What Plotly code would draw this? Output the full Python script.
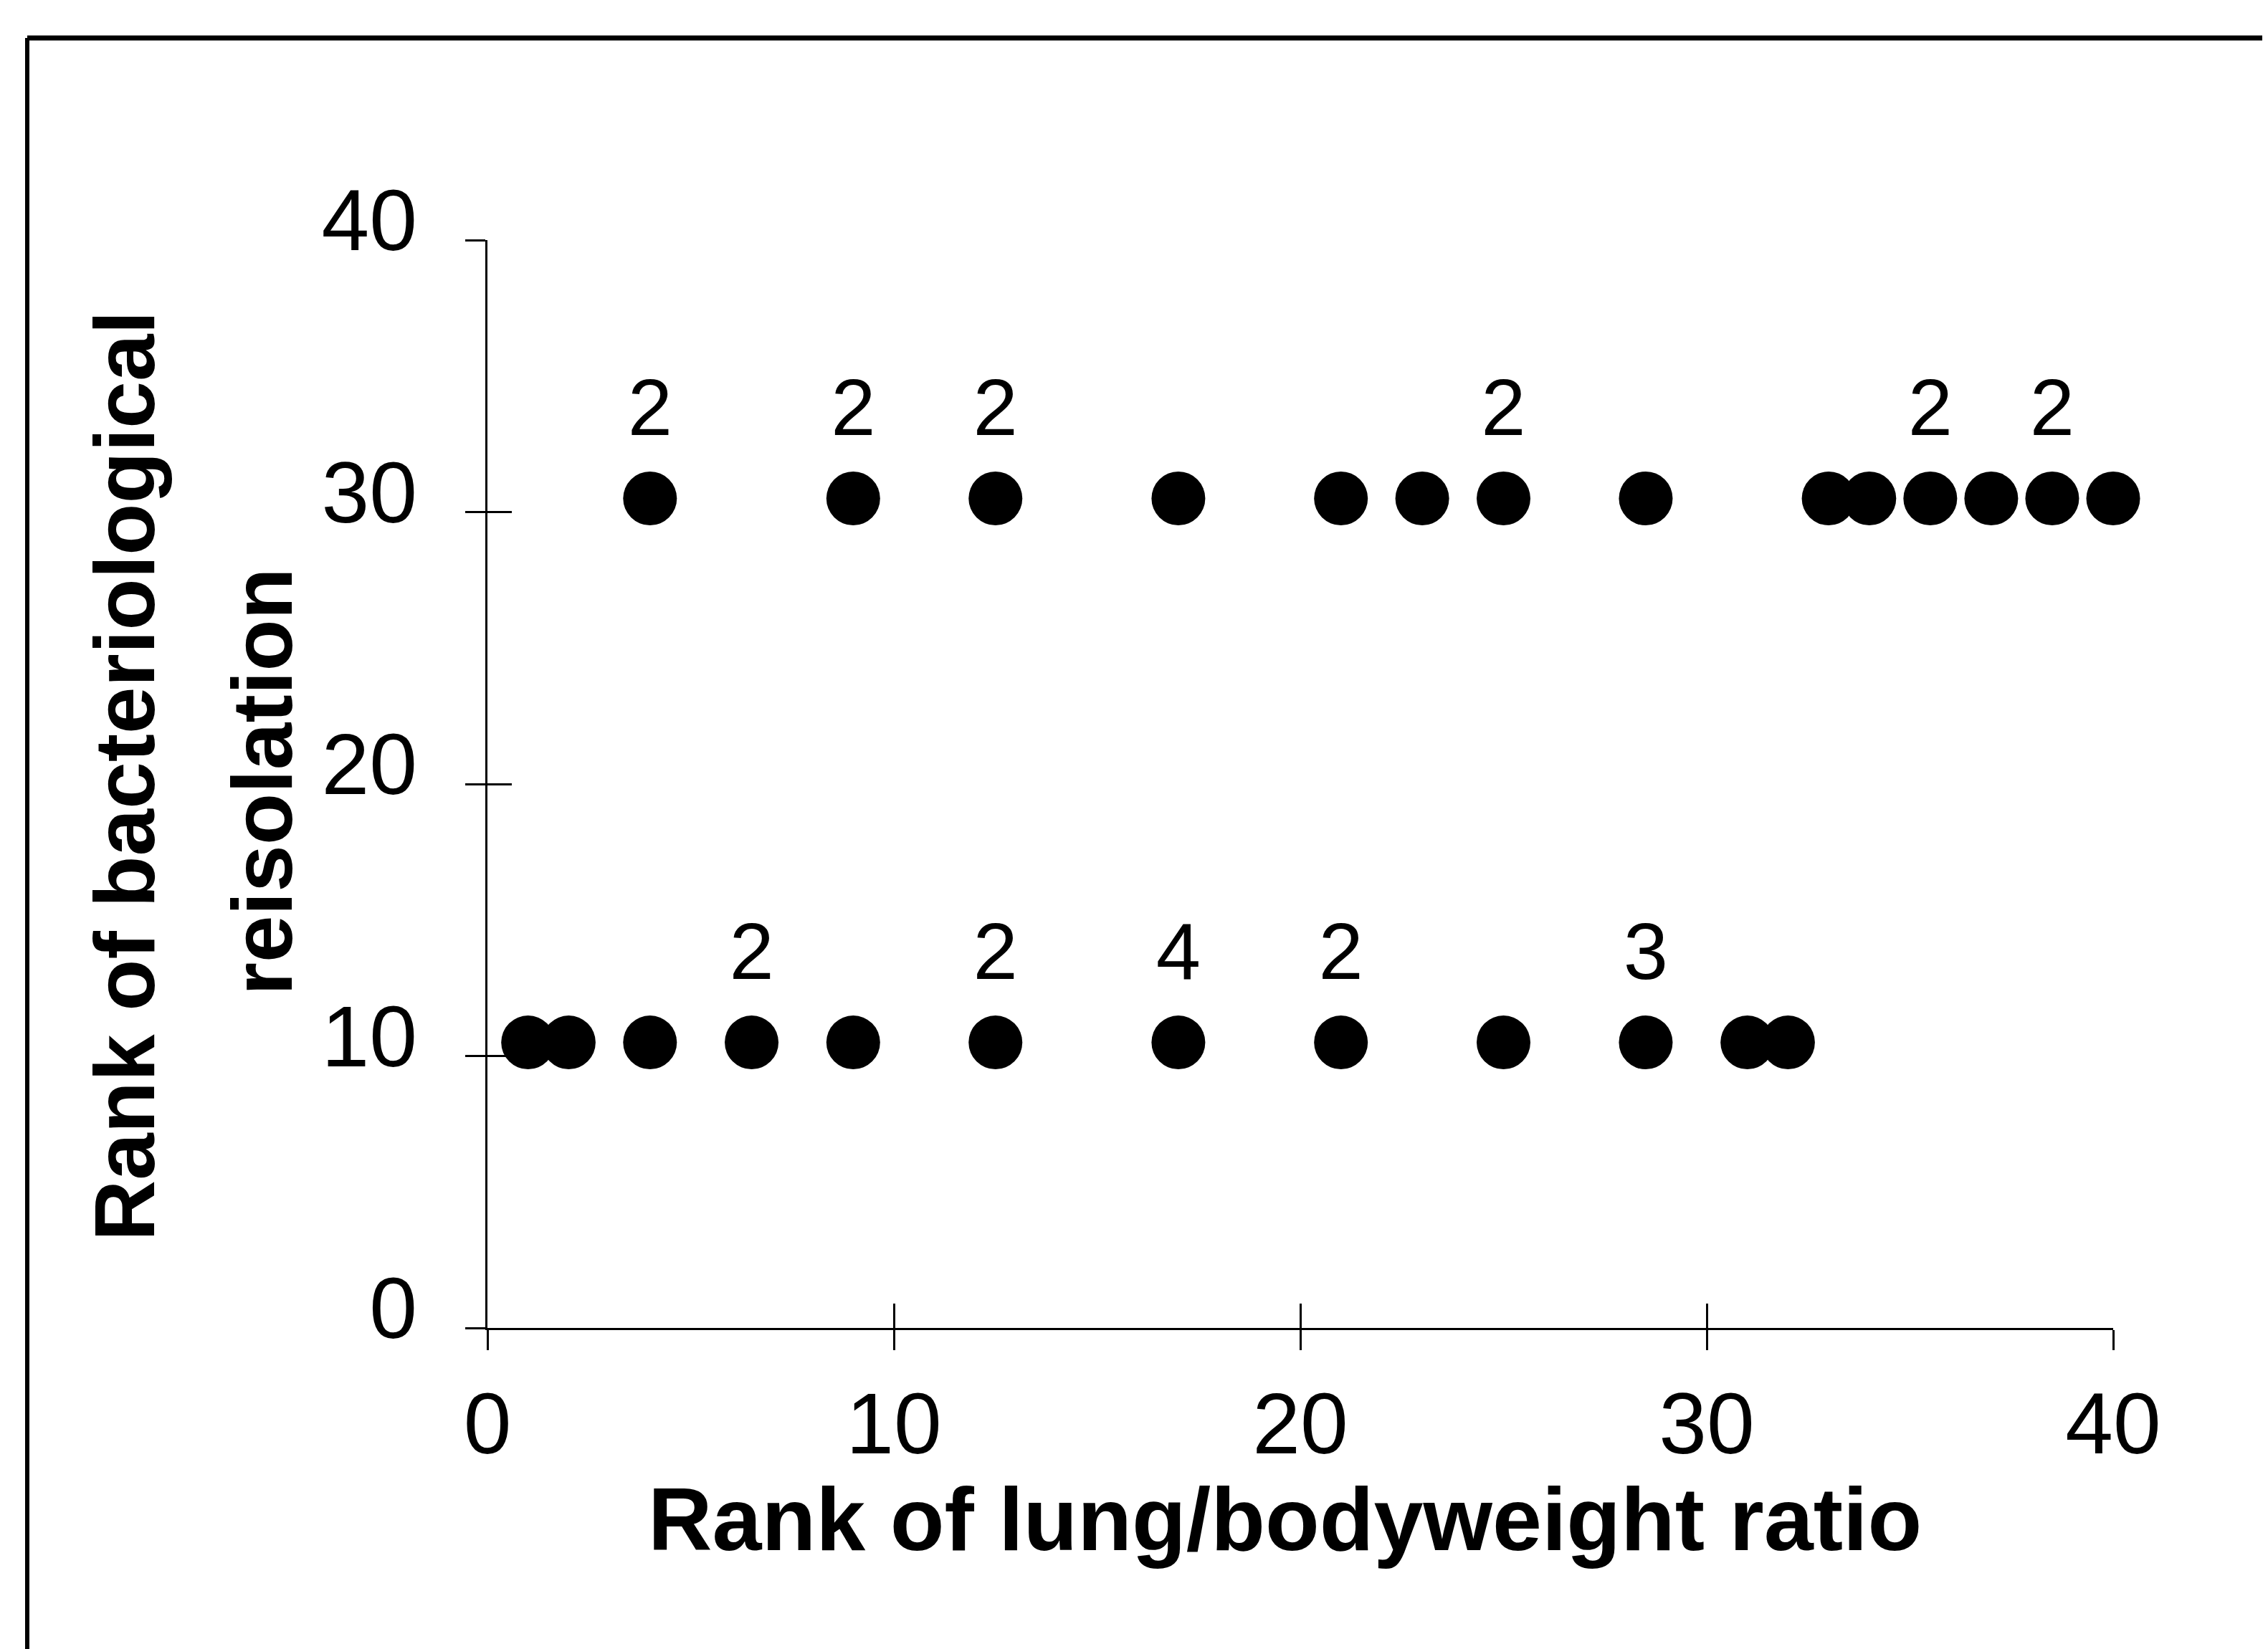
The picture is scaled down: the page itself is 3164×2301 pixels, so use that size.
import plotly.graph_objects as go

# ---- data (ranks) ----
# animals with negative reisolation (tied rank 10.5)
x_neg = [1, 2, 4, 6.5, 9, 12.5, 17, 21, 25, 28.5, 31, 32]
n_neg = [1, 1, 1, 2, 1, 2, 4, 2, 1, 3, 1, 1]
y_neg_rank = 10.5
# animals with positive reisolation (tied rank 30.5)
x_pos = [4, 9, 12.5, 17, 21, 23, 25, 28.5, 33, 34, 35.5, 37, 38.5, 40]
n_pos = [2, 2, 2, 1, 1, 1, 2, 1, 1, 1, 2, 1, 2, 1]
y_pos_rank = 30.5

tick_vals = [0, 10, 20, 30, 40]
tick_text = ["0", "10", "20", "30", "40"]

W, H = 3164, 2301
L, R, T, B = 672, 224, 327, 456
PW, PH = W - L - R, H - T - B


def px_x(p):
    return (p - L) / PW


def px_y(p):
    return (H - B - p) / PH


FONT = "Liberation Sans, Arial, sans-serif"

xs = x_neg + x_pos
ys = [y_neg_rank] * len(x_neg) + [y_pos_rank] * len(x_pos)
ns = n_neg + n_pos
labels = [str(n) if n > 1 else "" for n in ns]

fig = go.Figure()

# points
fig.add_trace(go.Scatter(
    x=xs, y=ys, mode="markers",
    marker=dict(size=75, color="black", line=dict(width=0)),
    cliponaxis=False, showlegend=False, hoverinfo="x+y",
))
# count labels above tied points
fig.add_trace(go.Scatter(
    x=xs, y=ys, mode="markers+text", text=labels,
    textposition="top center",
    textfont=dict(family=FONT, size=112, color="black"),
    marker=dict(size=95, color="rgba(0,0,0,0)"),
    cliponaxis=False, showlegend=False, hoverinfo="skip",
))
# invisible trace for the overlay axes (inner halves of the crossing ticks)
fig.add_trace(go.Scatter(
    x=xs, y=ys, mode="markers", xaxis="x2", yaxis="y2",
    marker=dict(size=1, color="rgba(0,0,0,0)"),
    showlegend=False, hoverinfo="skip",
))

axis_common = dict(
    range=[0, 40], tickvals=tick_vals, ticktext=tick_text,
    showgrid=False, zeroline=False,
    showline=True, linecolor="black", linewidth=3,
    ticks="outside", ticklen=28, tickwidth=3, tickcolor="black",
    tickfont=dict(family=FONT, size=120, color="black"),
)

fig.update_layout(
    width=W, height=H,
    margin=dict(l=L, r=R, t=T, b=B, pad=0),
    paper_bgcolor="white", plot_bgcolor="white",
    xaxis=dict(**axis_common, ticklabelstandoff=0),
    yaxis=dict(**axis_common, ticklabelstandoff=43, ticklabelshift=-28),
    xaxis2=dict(range=[0, 40], tickvals=tick_vals, overlaying="x", anchor="y2",
                side="bottom", showticklabels=False, showgrid=False, zeroline=False,
                showline=False, ticks="inside", ticklen=34, tickwidth=3,
                tickcolor="black"),
    yaxis2=dict(range=[0, 40], tickvals=tick_vals, overlaying="y", anchor="x2",
                side="left", showticklabels=False, showgrid=False, zeroline=False,
                showline=False, ticks="inside", ticklen=34, tickwidth=3,
                tickcolor="black"),
    showlegend=False,
)

# axis titles
fig.add_annotation(
    text="Rank of lung/bodyweight ratio", xref="paper", yref="paper",
    x=px_x(1784), y=px_y(2112), xanchor="center", yanchor="middle",
    showarrow=False, font=dict(family=FONT, size=124, color="black", weight="bold"),
)
fig.add_annotation(
    text="Rank of bacteriological", xref="paper", yref="paper",
    x=px_x(166), y=px_y(1075), xanchor="center", yanchor="middle", textangle=-90,
    showarrow=False, font=dict(family=FONT, size=118, color="black", weight="bold"),
)
fig.add_annotation(
    text="reisolation", xref="paper", yref="paper",
    x=px_x(358), y=px_y(1083), xanchor="center", yanchor="middle", textangle=-90,
    showarrow=False, font=dict(family=FONT, size=118, color="black", weight="bold"),
)

# scanned frame (top and left edges)
fig.add_shape(type="line", xref="paper", yref="paper",
              x0=px_x(30), x1=px_x(30), y0=px_y(H), y1=px_y(45),
              line=dict(color="black", width=6))
fig.add_shape(type="line", xref="paper", yref="paper",
              x0=px_x(30), x1=px_x(W), y0=px_y(45), y1=px_y(45),
              line=dict(color="black", width=7))

fig.write_html("out.html")
